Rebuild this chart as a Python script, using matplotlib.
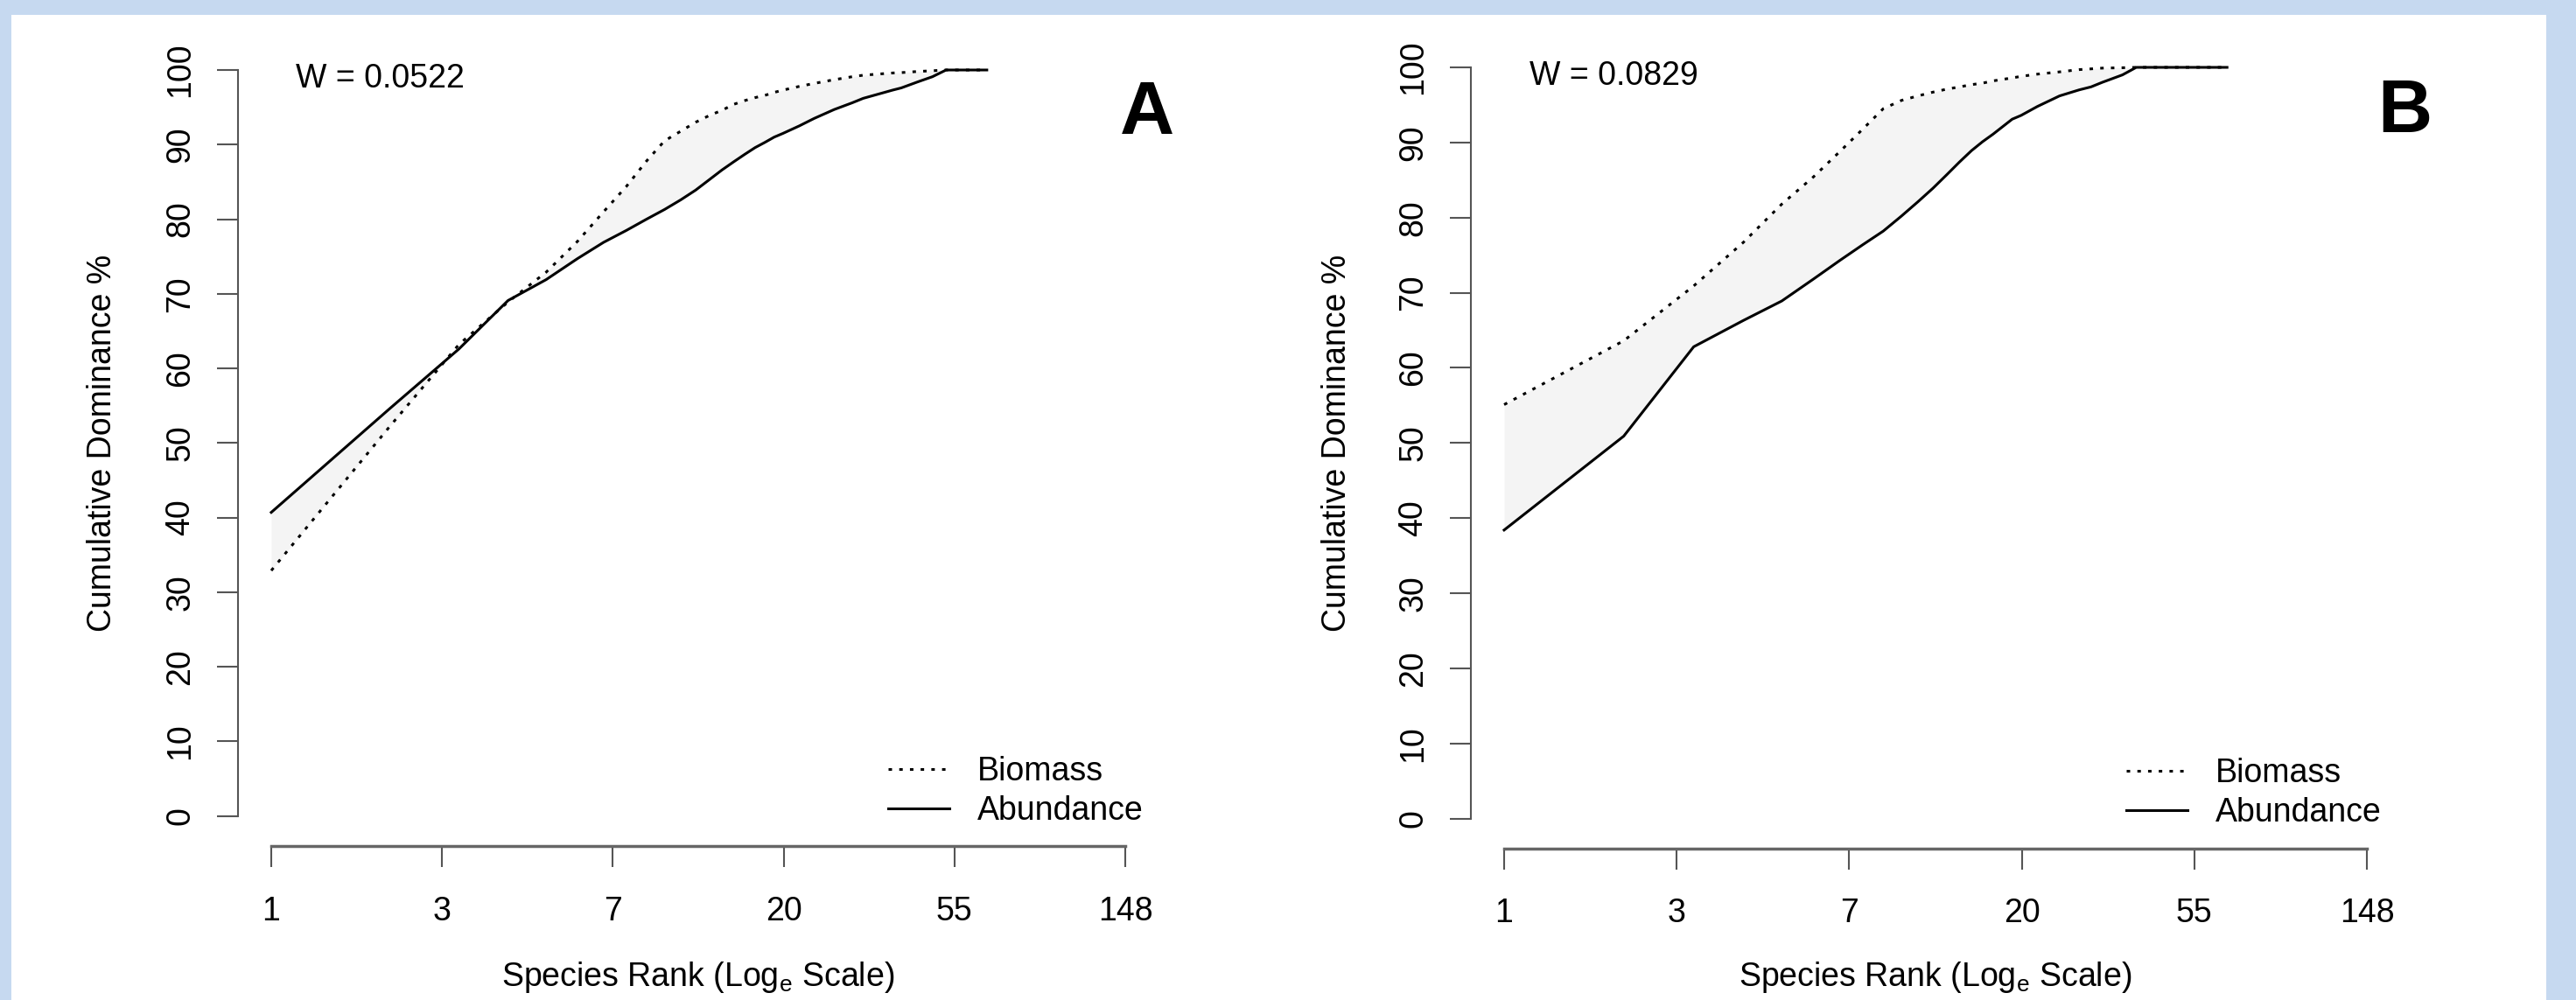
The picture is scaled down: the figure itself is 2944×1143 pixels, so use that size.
import numpy as np
import matplotlib
matplotlib.use('Agg')
import matplotlib.pyplot as plt
from matplotlib.patches import Rectangle

plt.rcParams['font.family'] = ['Liberation Sans', 'DejaVu Sans']
plt.rcParams['mathtext.fontset'] = 'custom'
plt.rcParams['mathtext.rm'] = 'Liberation Sans'
plt.rcParams['mathtext.it'] = 'Liberation Sans:italic'

# ---------------- data ----------------
ranks_A = [1, 2, 3, 4, 5, 6, 7, 8, 9, 10, 11, 12, 13, 14, 15, 16, 17, 18, 19, 20,
           22, 24, 27, 30, 32, 38, 40, 44, 48, 52, 66]
biomass_A = [32.9, 52.2, 63.2, 68.9, 72.9, 77.0, 81.0, 84.4, 87.8, 90.5, 91.8, 93.0,
             93.9, 94.6, 95.4, 95.9, 96.3, 96.6, 97.0, 97.3, 97.8, 98.2, 98.7, 99.1,
             99.3, 99.6, 99.65, 99.8, 99.9, 100.0, 100.0]
abundance_A = [40.7, 54.6, 62.6, 69.1, 71.9, 74.7, 76.9, 78.5, 80.0, 81.3, 82.6, 83.9,
               85.3, 86.6, 87.7, 88.7, 89.6, 90.3, 91.0, 91.5, 92.5, 93.5, 94.7, 95.6,
               96.2, 97.3, 97.6, 98.4, 99.1, 100.0, 100.0]

ranks_B = [1, 2, 3, 4, 5, 6, 7, 8, 9, 10, 11, 12, 13, 14, 15, 16, 17, 19, 20, 22,
           25, 28, 30, 32, 36, 39, 66]
biomass_B = [55.1, 63.6, 70.9, 76.7, 81.8, 85.4, 88.8, 91.8, 94.5, 95.6, 96.2, 96.7,
             97.1, 97.4, 97.7, 97.9, 98.2, 98.6, 98.8, 99.1, 99.4, 99.7, 99.8, 99.9,
             99.95, 100.0, 100.0]
abundance_B = [38.4, 50.9, 62.8, 66.3, 68.9, 71.8, 74.3, 76.4, 78.2, 80.2, 82.1, 83.9,
               85.7, 87.4, 88.9, 90.1, 91.1, 93.1, 93.6, 94.8, 96.2, 97.0, 97.4, 98.0,
               99.0, 100.0, 100.0]

W_A = 0.0522
W_B = 0.0829

x_tick_pos = [0, 1, 2, 3, 4, 5]            # ln(rank)
x_tick_labels = ['1', '3', '7', '20', '55', '148']
y_ticks = [0, 10, 20, 30, 40, 50, 60, 70, 80, 90, 100]

# ---------------- figure ----------------
W_PX, H_PX = 2944, 1143
DPI = 100
fig = plt.figure(figsize=(W_PX / DPI, H_PX / DPI), dpi=DPI)
fig.patch.set_facecolor('#C6D9F0')
bg = Rectangle((13 / W_PX, 0), 2897 / W_PX, (H_PX - 17) / H_PX,
               transform=fig.transFigure, facecolor='white',
               edgecolor='none', zorder=-10)
fig.patches.append(bg)

axA = fig.add_axes([310 / W_PX, (H_PX - 932.7) / H_PX, 976 / W_PX, 852.7 / H_PX])
axB = fig.add_axes([1719 / W_PX, (H_PX - 935.5) / H_PX, 986 / W_PX, 858.5 / H_PX])

DOT = (0, (1.3, 2.7))


def panel(ax, ranks, bio, abu, W, letter, letter_x, ylab_x, xlab_y, leg_xy):
    ax.patch.set_alpha(0)
    x = np.log(np.array(ranks, dtype=float))
    ax.fill_between(x, bio, abu, color='#F4F4F4', lw=0, zorder=1)
    l1, = ax.plot(x, bio, color='black', lw=2.2, ls=DOT, clip_on=False,
                  label='Biomass', zorder=3)
    l2, = ax.plot(x, abu, color='black', lw=2.2, clip_on=False,
                  label='Abundance', zorder=3)
    ax.set_xlim(0, 5)
    ax.set_ylim(0, 100)
    for s in ['top', 'right']:
        ax.spines[s].set_visible(False)
    ax.spines['left'].set_position(('outward', 27.5))
    ax.spines['bottom'].set_position(('outward', 24.5))
    ax.spines['left'].set_bounds(0, 100)
    ax.spines['bottom'].set_bounds(0, 5)
    ax.spines['left'].set_color('#555555')
    ax.spines['bottom'].set_color('#666666')
    ax.spines['left'].set_linewidth(1.5)
    ax.spines['bottom'].set_linewidth(2.5)
    ax.set_xticks(x_tick_pos)
    ax.set_xticklabels(x_tick_labels)
    ax.set_yticks(y_ticks)
    ax.set_yticklabels([str(v) for v in y_ticks], rotation=90, va='center')
    ax.tick_params(axis='y', length=17, width=1.5, color='#555555', pad=17,
                   labelsize=27)
    ax.tick_params(axis='x', length=17, width=1.5, color='#555555', pad=24,
                   labelsize=27)
    ax.set_ylabel('Cumulative Dominance %', fontsize=27)
    ax.yaxis.label.set_va('center')
    ax.yaxis.set_label_coords(ylab_x, 0.5)
    ax.set_xlabel(r'Species Rank (Log$_\mathregular{e}$ Scale)', fontsize=27)
    ax.xaxis.label.set_va('center')
    ax.xaxis.set_label_coords(0.5, xlab_y)
    ax.text(0.145, 98.8, 'W = %.4f' % W, fontsize=27, ha='left', va='center')
    ax.text(letter_x, 94.0, letter, fontsize=62, fontweight='bold',
            ha='center', va='center')
    ax.legend(handles=[l1, l2], loc='lower left', bbox_to_anchor=leg_xy,
              frameon=False, fontsize=27, handlelength=1.87, handletextpad=0.85,
              labelspacing=0.23, borderpad=0, borderaxespad=0)


panel(axA, ranks_A, biomass_A, abundance_A, W_A, 'A', 5.13,
      (117 - 310) / 976, -0.216, (0.7223, -0.0141))
panel(axB, ranks_B, biomass_B, abundance_B, W_B, 'B', 5.22,
      (1528 - 1719) / 986, -0.211, (0.7208, -0.0134))

fig.savefig('out.png', dpi=DPI, facecolor=fig.get_facecolor())
